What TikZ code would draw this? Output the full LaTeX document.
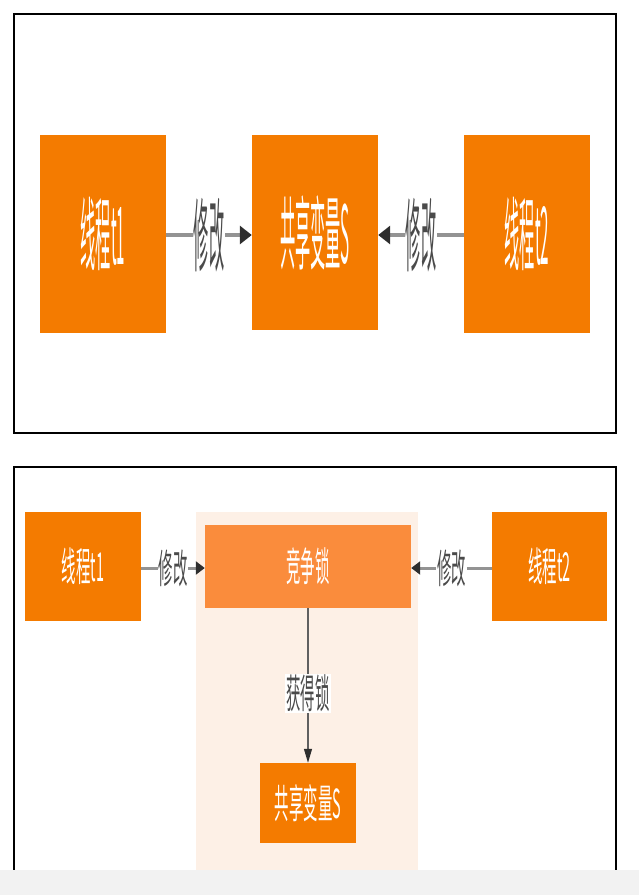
\documentclass[tikz,border=0pt]{standalone}
\usepackage{fontspec}
\usepackage{graphicx}
\usetikzlibrary{arrows.meta}
\newfontfamily\cjk{Noto Sans CJK SC}
\definecolor{thrOrange}{HTML}{F47B00}
\definecolor{lockOrange}{HTML}{FA8C3C}
\definecolor{lockBg}{HTML}{FDF0E6}
\definecolor{lblGray}{HTML}{4A4A4A}
\definecolor{tipGray}{HTML}{2E2E2E}
\newcommand{\bigtxt}[1]{\scalebox{0.19}[1]{\fontsize{80}{80}\selectfont #1}}
\newcommand{\smalltxt}[1]{\scalebox{0.36}[1]{\fontsize{40}{40}\selectfont #1}}

\begin{document}
\begin{tikzpicture}[x=1pt,y=-1pt]
                \tikzset{box/.style={fill=thrOrange, text=white, inner sep=0pt, font=\cjk},
                         lockbox/.style={box, fill=lockOrange},
                         LabelStyle/.style={fill=white, text=lblGray, inner sep=1pt, font=\cjk},
                         bigedge/.style={line width=4pt, draw=gray!85, -{Triangle[length=12pt,width=18pt,fill=tipGray,color=tipGray]}},
                         smalledge/.style={line width=3pt, draw=gray!85, -{Triangle[length=9pt,width=13pt,fill=tipGray,color=tipGray]}},
                         thinedge/.style={line width=1.2pt, draw=gray!75!black, -{Triangle[length=14pt,width=8pt,fill=tipGray,color=tipGray]}}}
                \useasboundingbox (0,0) rectangle (639,895);
                % top panel
                \draw[line width=2pt] (14,14) rectangle (616,433);
                \node[box, minimum width=126pt, minimum height=198pt] (TA) at (103,234) {\bigtxt{线程t1}};
                \node[box, minimum width=126pt, minimum height=195pt] (TS) at (315,232.5) {\bigtxt{共享变量S}};
                \node[box, minimum width=126pt, minimum height=198pt] (TB) at (527,234) {\bigtxt{线程t2}};
                \draw[bigedge] (TA.east |- 0,235) -- node[LabelStyle]{\bigtxt{修改}} (TS.west |- 0,235);
                \draw[bigedge] (TB.west |- 0,235) -- node[LabelStyle]{\bigtxt{修改}} (TS.east |- 0,235);
                % bottom panel
                \fill[lockBg] (196,512) rectangle (418,870);
                \draw[line width=2pt] (14,870) -- (14,467) -- (616,467) -- (616,870);
                \node[box, minimum width=116pt, minimum height=109pt] (BA) at (83,566.5) {\smalltxt{线程t1}};
                \node[lockbox, minimum width=206pt, minimum height=83pt] (BL) at (308,566.5) {\smalltxt{竞争锁}};
                \node[box, minimum width=115pt, minimum height=109pt] (BB) at (549.5,566.5) {\smalltxt{线程t2}};
                \node[box, minimum width=96pt, minimum height=80pt] (BS) at (308,803) {\smalltxt{共享变量S}};
                \draw[smalledge] (BA.east |- 0,568) -- node[LabelStyle]{\smalltxt{修改}} (BL.west |- 0,568);
                \draw[smalledge] (BB.west |- 0,568) -- node[LabelStyle]{\smalltxt{修改}} (BL.east |- 0,568);
                \draw[thinedge] (BL) -- node[LabelStyle, pos=0.55]{\smalltxt{获得锁}} (BS);
                \fill[gray!10] (0,870) rectangle (639,895);
            \end{tikzpicture}
\end{document}
